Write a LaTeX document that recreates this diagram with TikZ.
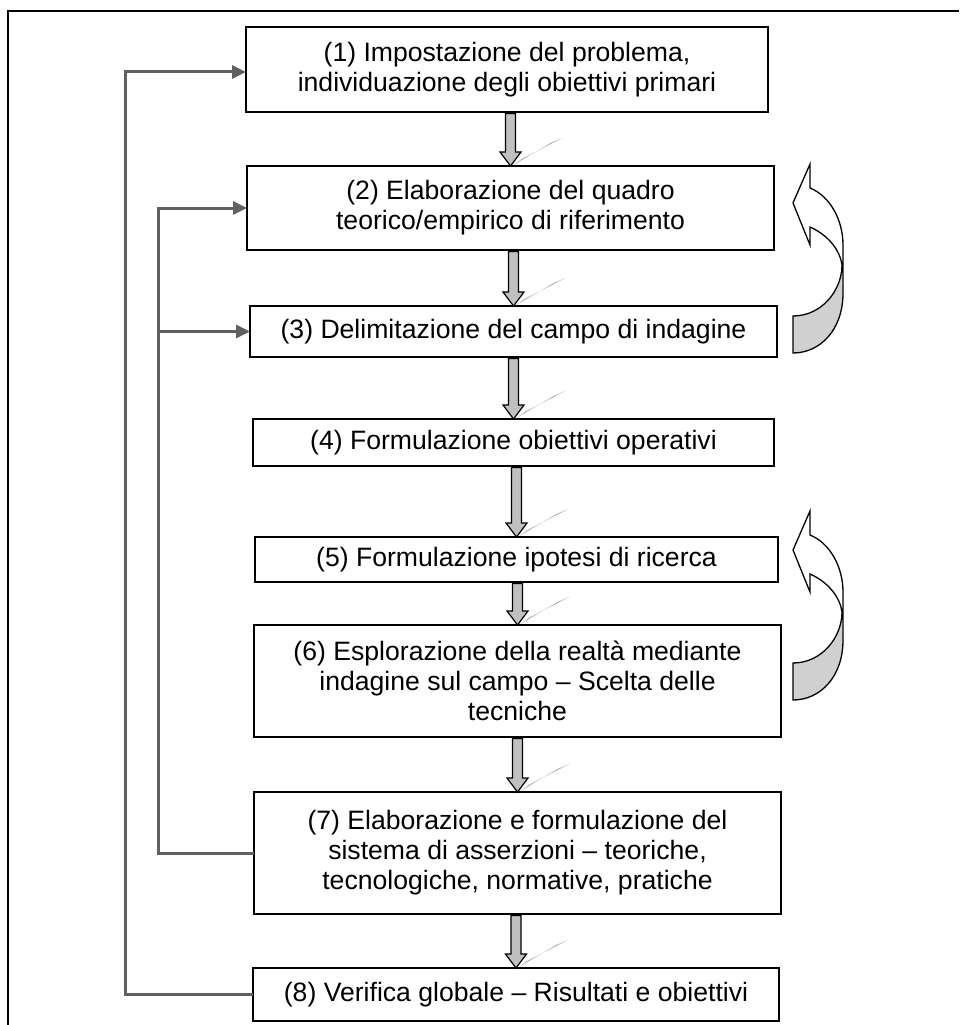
\documentclass[tikz,border=0pt]{standalone}
\usepackage{fontspec}
\setmainfont{Liberation Sans}
\usetikzlibrary{calc,arrows.meta}
\definecolor{loopgray}{RGB}{96,96,96}
\definecolor{blockfill}{RGB}{192,192,192}
\definecolor{backfill}{RGB}{208,208,208}
\definecolor{streakgray}{RGB}{175,175,175}
\tikzset{
  stage/.style={draw=black, line width=1.6pt, fill=white, inner sep=0pt, outer sep=0pt,
    align=center, font=\fontsize{26.6}{30}\selectfont},
  feedback/.style={draw=loopgray, line width=3pt, -{Triangle[length=14pt,width=13pt]}},
  blockarrow/.style={draw=black, fill=blockfill, line width=1.2pt, line join=miter},
  uturn/.style={draw=black, line width=1.3pt, line join=miter},
}
% vertical block arrow from the bottom of one stage to the top of the next
\newcommand\stepflow[2]{%
  \fill[streakgray] let \p1=(#1.south), \p2=(#2.north) in
    (\x2+3pt,\y2+1pt) -- (\x2+40pt,\y2+23pt) -- (\x2+52pt,\y2+28pt) -- (\x2+11pt,\y2+7pt) -- cycle;
  \draw[blockarrow] let \p1=(#1.south), \p2=(#2.north) in
    (\x2-5pt,\y1-1.5pt) -- (\x2-5pt,\y2+14pt) -- (\x2-10.5pt,\y2+14pt) -- (\x2,\y2)
    -- (\x2+10.5pt,\y2+14pt) -- (\x2+5pt,\y2+14pt) -- (\x2+5pt,\y1-1.5pt) -- cycle;
}
% curved return arrow on the right-hand side
\newcommand\returnarrow{%
  \fill[backfill] (842,265) .. controls (842,290) and (822,316) .. (793,316)
    -- (793,353) .. controls (820,353) and (843,330) .. (843,293) -- cycle;
  \draw[uturn] (793,353) .. controls (820,353) and (843,330) .. (843,293)
    -- (843,245) .. controls (843,220) and (830,196) .. (810,188)
    -- (810,164) -- (793,203) -- (810,245) -- (810,227)
    .. controls (828,235) and (840,250) .. (842,265)
    .. controls (842,290) and (822,316) .. (793,316) -- cycle;
}
\begin{document}
\begin{tikzpicture}[x=1pt,y=-1pt]
\useasboundingbox (0,0) rectangle (959,1025);
% outer frame
\draw[line width=2pt] (8,1025) -- (8,11) -- (959,11);

% stages
\node[stage, minimum width=522pt, minimum height=85pt] (b1) at (507,69.5)
  {(1) Impostazione del problema,\\individuazione degli obiettivi primari};
\node[stage, minimum width=527pt, minimum height=84pt] (b2) at (510.5,208)
  {(2) Elaborazione del quadro\\teorico/empirico di riferimento};
\node[stage, minimum width=527pt, minimum height=51pt] (b3) at (513.5,331.5)
  {(3) Delimitazione del campo di indagine};
\node[stage, minimum width=521pt, minimum height=47pt] (b4) at (513.5,442.5)
  {(4) Formulazione obiettivi operativi};
\node[stage, minimum width=523pt, minimum height=45pt] (b5) at (516.5,559.5)
  {(5) Formulazione ipotesi di ricerca};
\node[stage, minimum width=527pt, minimum height=112pt] (b6) at (517.5,681)
  {(6) Esplorazione della realtà mediante\\indagine sul campo – Scelta delle\\tecniche};
\node[stage, minimum width=527pt, minimum height=122pt] (b7) at (517.5,853)
  {(7) Elaborazione e formulazione del\\sistema di asserzioni – teoriche,\\tecnologiche, normative, pratiche};
\node[stage, minimum width=526pt, minimum height=53pt] (b8) at (516,994.5)
  {(8) Verifica globale – Risultati e obiettivi};

% forward flow
\stepflow{b1}{b2}
\stepflow{b2}{b3}
\stepflow{b3}{b4}
\stepflow{b4}{b5}
\stepflow{b5}{b6}
\stepflow{b6}{b7}
\stepflow{b7}{b8}

% feedback loops
\draw[feedback] (b8.west) -- ++(-128,0) |- ($(b1.west)+(0,2.5)$);
\draw[feedback] (b7.west) -- ++(-96,0) |- (b2.west);
\coordinate (j3) at ($(b7.west)+(-96,0)$);
\draw[feedback] (j3 |- b3.west) -- (b3.west);

% iteration arrows
\returnarrow
\begin{scope}[shift={(0,347)}]
  \returnarrow
\end{scope}
\end{tikzpicture}
\end{document}
